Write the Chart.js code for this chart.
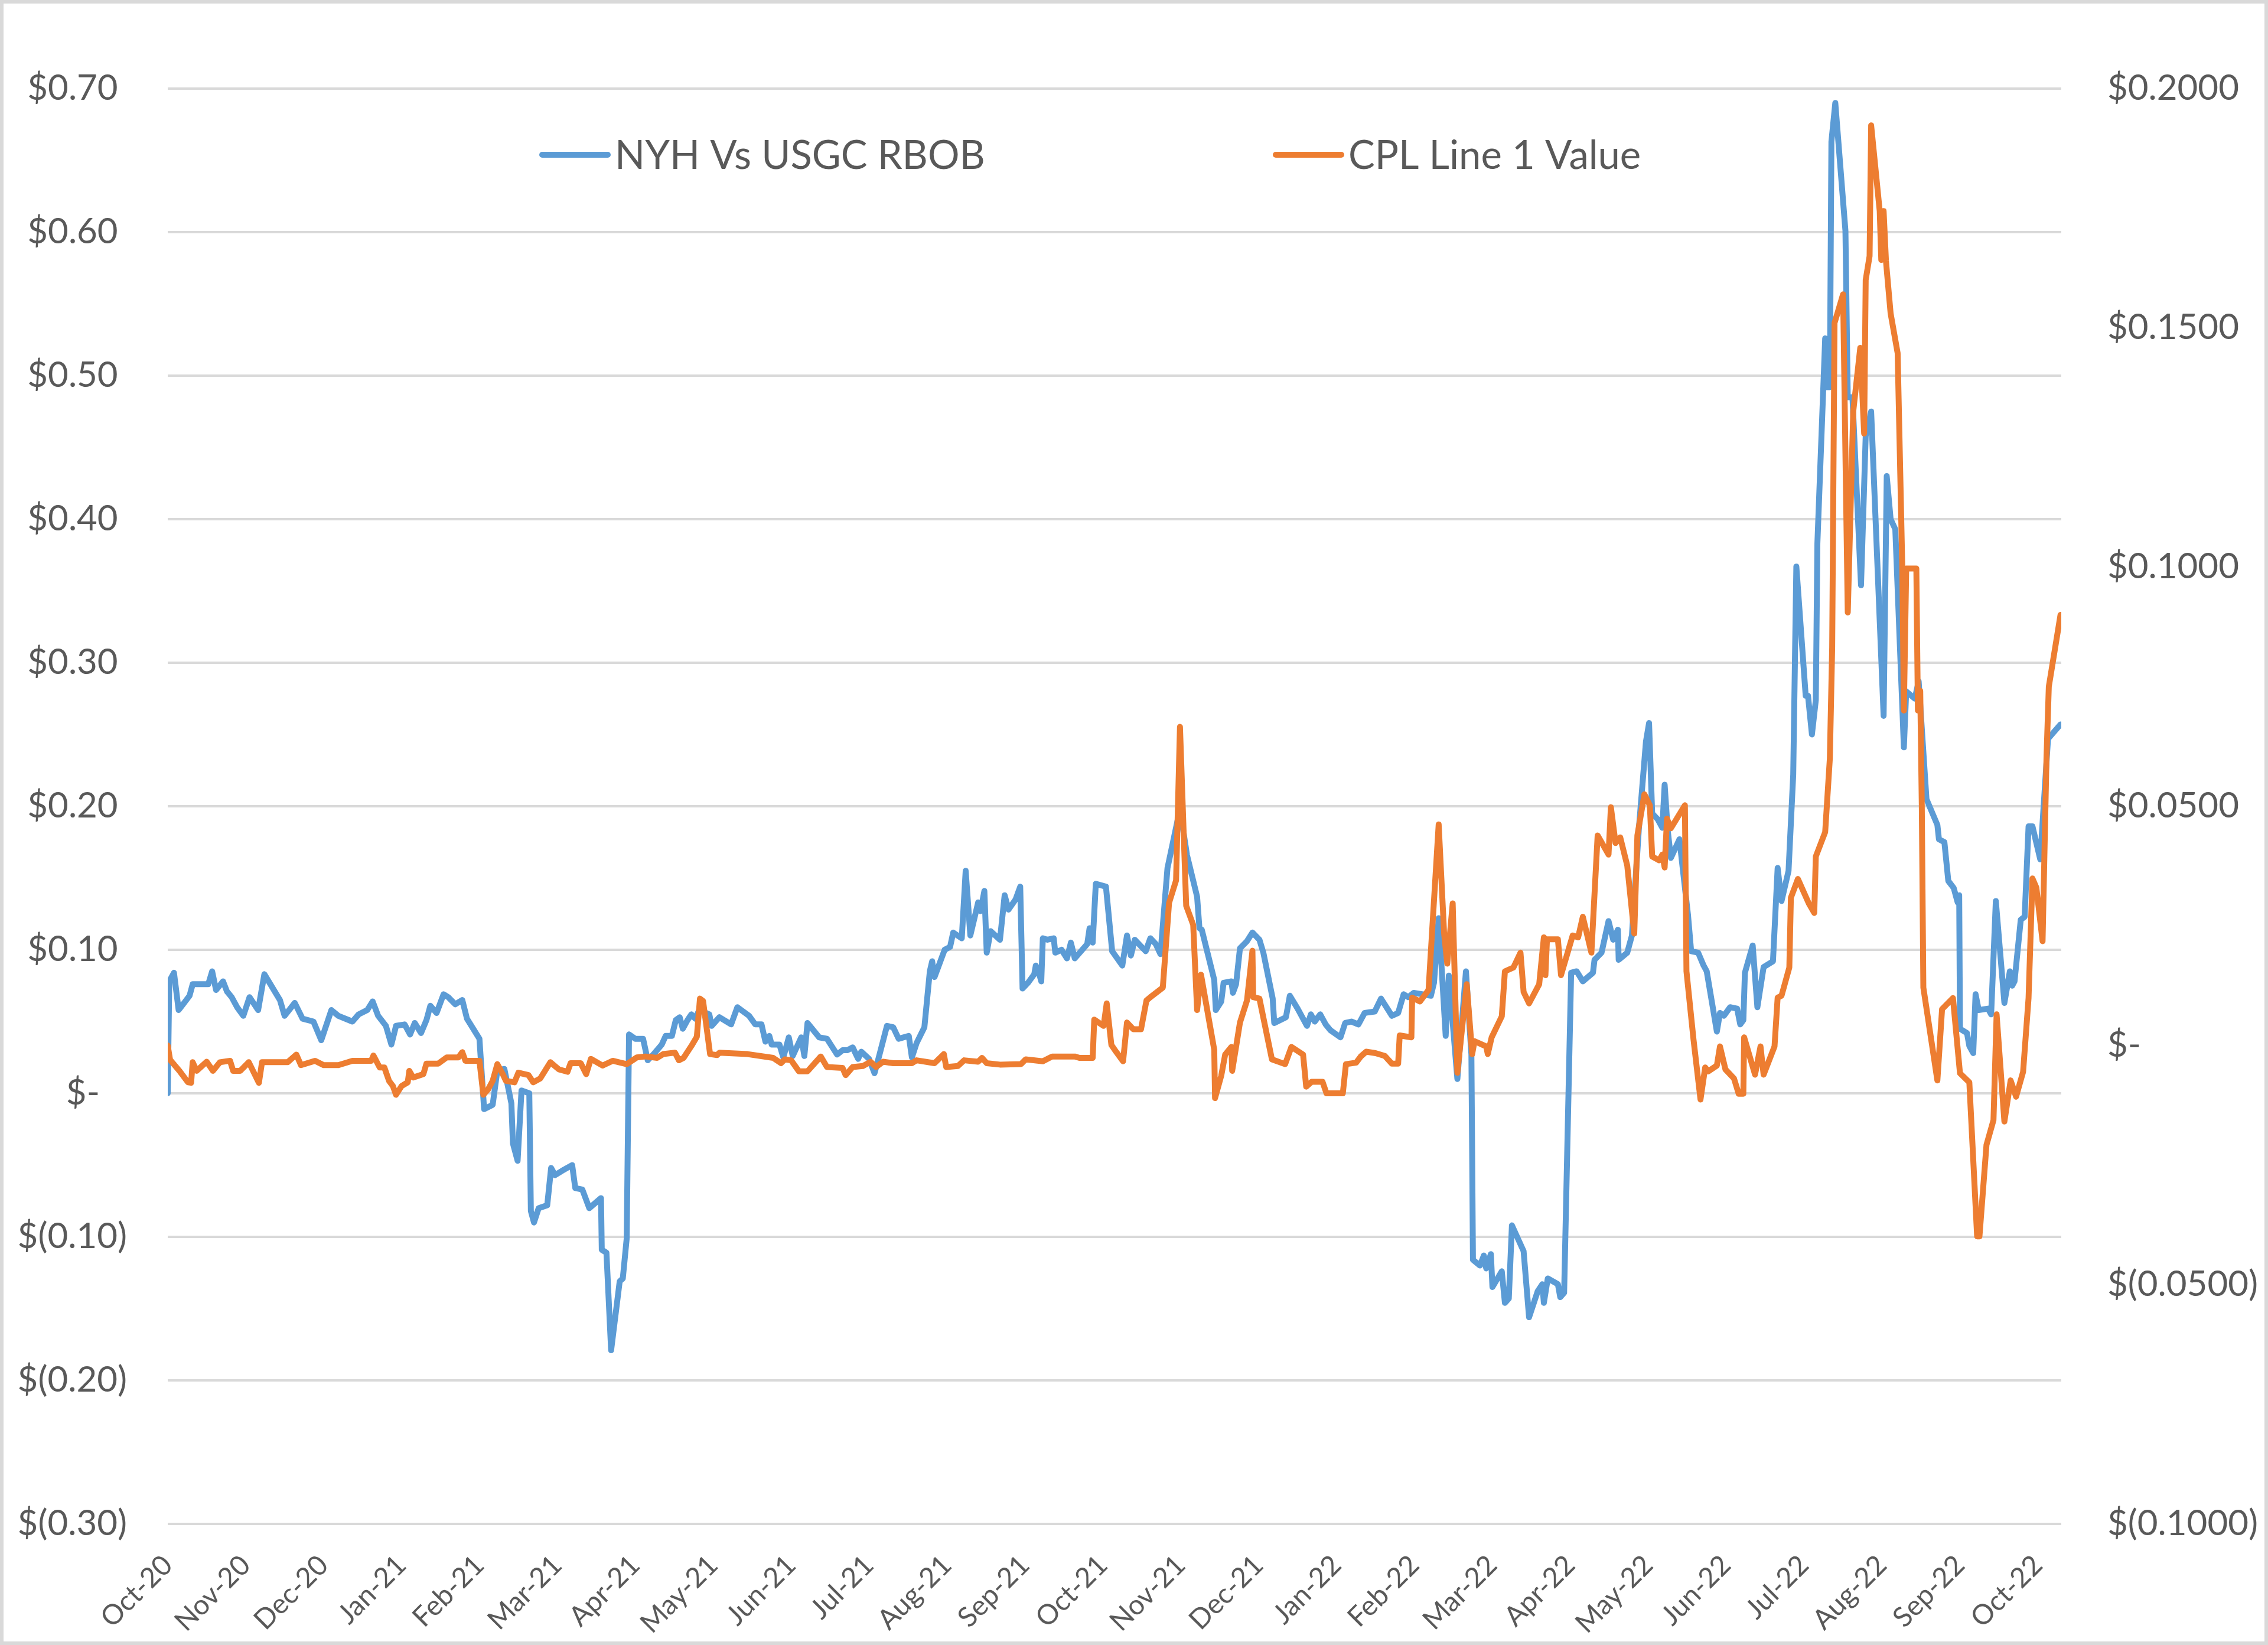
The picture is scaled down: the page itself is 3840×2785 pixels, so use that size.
<!DOCTYPE html>
<html>
<head>
<meta charset="utf-8">
<title>NYH Vs USGC RBOB / CPL Line 1 Value</title>
<script src="https://cdn.jsdelivr.net/npm/chart.js@4.4.0/dist/chart.umd.min.js"></script>
<style>
  html, body { margin: 0; padding: 0; background: #fff; }
  #chart { display: block; }
</style>
</head>
<body>
<canvas id="chart" width="3840" height="2785"></canvas>
<script>
  // month labels, one per tick (x = months since Oct-20)
  const monthLabels = ['Oct-20', 'Nov-20', 'Dec-20', 'Jan-21', 'Feb-21', 'Mar-21', 'Apr-21', 'May-21',
    'Jun-21', 'Jul-21', 'Aug-21', 'Sep-21', 'Oct-21', 'Nov-21', 'Dec-21', 'Jan-22', 'Feb-22',
    'Mar-22', 'Apr-22', 'May-22', 'Jun-22', 'Jul-22', 'Aug-22', 'Sep-22', 'Oct-22'];

  // NYH Vs USGC RBOB (left axis, $/gal)
  const nyhX = [0.00, 0.02, 0.08, 0.14, 0.21, 0.28, 0.32, 0.52, 0.57, 0.62, 0.71, 0.76, 0.82, 0.89, 0.97,
    1.05, 1.16, 1.24, 1.44, 1.50, 1.63, 1.73, 1.87, 1.97, 2.10, 2.19, 2.37, 2.45, 2.56, 2.63, 2.70, 2.80,
    2.87, 2.93, 3.04, 3.11, 3.17, 3.25, 3.32, 3.37, 3.45, 3.54, 3.60, 3.69, 3.78, 3.84, 4.00, 4.06, 4.17,
    4.23, 4.32, 4.41, 4.43, 4.49, 4.54, 4.64, 4.66, 4.70, 4.76, 4.87, 4.92, 4.97, 5.06, 5.19, 5.23, 5.32,
    5.41, 5.56, 5.57, 5.63, 5.69, 5.80, 5.84, 5.89, 5.92, 6.00, 6.10, 6.16, 6.23, 6.34, 6.39, 6.47, 6.52,
    6.57, 6.61, 6.67, 6.72, 6.77, 6.82, 6.95, 6.98, 7.08, 7.23, 7.31, 7.46, 7.54, 7.62, 7.67, 7.72, 7.75,
    7.85, 7.90, 7.97, 8.02, 8.13, 8.17, 8.21, 8.36, 8.46, 8.59, 8.66, 8.72, 8.79, 8.86, 8.90, 9.00, 9.07,
    9.12, 9.23, 9.31, 9.38, 9.51, 9.55, 9.61, 9.71, 9.78, 9.81, 9.84, 9.97, 10.04, 10.08, 10.19, 10.24,
    10.30, 10.40, 10.43, 10.48, 10.51, 10.56, 10.68, 10.74, 10.79, 10.88, 10.94, 10.97, 11.04, 11.12,
    11.14, 11.17, 11.21, 11.23, 11.29, 11.37, 11.39, 11.47, 11.54, 11.59, 11.64, 11.80, 11.83, 11.87,
    11.91, 12.04, 12.12, 12.25, 12.31, 12.36, 12.41, 12.55, 12.61, 12.68, 12.74, 12.83, 12.99, 13.08,
    13.21, 13.24, 13.27, 13.43, 13.45, 13.52, 13.55, 13.65, 13.67, 13.71, 13.76, 13.85, 13.92, 14.01,
    14.06, 14.18, 14.20, 14.35, 14.40, 14.50, 14.62, 14.67, 14.72, 14.79, 14.86, 14.92, 15.05, 15.11,
    15.19, 15.28, 15.36, 15.49, 15.57, 15.71, 15.79, 15.86, 15.92, 15.99, 16.21, 16.25, 16.31, 16.40,
    16.44, 16.55, 16.66, 16.73, 16.75, 16.84, 16.89, 16.92, 16.98, 17.00, 17.12, 17.16, 17.21, 17.25,
    17.40, 17.47, 17.58, 17.64, 17.66, 17.71, 17.84, 17.87, 17.92, 18.01, 18.08, 18.16, 18.29, 18.31,
    18.40, 18.49, 18.55, 18.61, 18.62, 18.73, 18.79, 18.88, 18.97, 19.01, 19.05, 19.12, 19.18, 19.21,
    19.25, 19.29, 19.40, 19.51, 19.55, 19.64, 19.71, 19.75, 19.88, 19.92, 19.97, 20.05, 20.14, 20.18,
    20.22, 20.24, 20.34, 20.40, 20.48, 20.60, 20.66, 20.71, 20.80, 20.86, 20.90, 21.02, 21.05, 21.10,
    21.15, 21.17, 21.27, 21.28, 21.33, 21.35, 21.40, 21.53, 21.56, 21.62, 21.73, 21.79, 21.86, 22.02,
    22.06, 22.11, 22.17, 22.28, 22.31, 22.42, 22.47, 22.57, 22.71, 22.73, 22.80, 22.85, 22.92, 22.97,
    22.99, 23.00, 23.09, 23.12, 23.17, 23.20, 23.24, 23.36, 23.40, 23.46, 23.57, 23.64, 23.67, 23.70,
    23.78, 23.83, 23.88, 23.93, 24.03, 24.07, 24.13, 24.29];
  const nyhY = [0.000, 0.078, 0.084, 0.058, 0.063, 0.068, 0.076, 0.076, 0.085, 0.072, 0.078, 0.071, 0.067,
    0.060, 0.054, 0.067, 0.058, 0.083, 0.065, 0.054, 0.063, 0.052, 0.050, 0.037, 0.058, 0.054, 0.050,
    0.055, 0.058, 0.064, 0.054, 0.047, 0.034, 0.047, 0.048, 0.041, 0.049, 0.042, 0.051, 0.061, 0.056,
    0.069, 0.067, 0.062, 0.065, 0.052, 0.038, -0.011, -0.008, 0.016, 0.017, -0.007, -0.035, -0.047,
    0.002, 0.000, -0.082, -0.090, -0.080, -0.078, -0.052, -0.057, -0.054, -0.050, -0.066, -0.067,
    -0.080, -0.073, -0.109, -0.111, -0.179, -0.131, -0.129, -0.101, 0.041, 0.038, 0.038, 0.023, 0.027,
    0.034, 0.040, 0.040, 0.051, 0.053, 0.045, 0.051, 0.055, 0.052, 0.058, 0.055, 0.047, 0.053, 0.048,
    0.060, 0.054, 0.048, 0.048, 0.036, 0.040, 0.034, 0.034, 0.025, 0.039, 0.026, 0.039, 0.026, 0.049,
    0.039, 0.038, 0.027, 0.030, 0.030, 0.032, 0.024, 0.029, 0.024, 0.014, 0.024, 0.047, 0.046, 0.038,
    0.040, 0.025, 0.035, 0.046, 0.085, 0.092, 0.081, 0.100, 0.102, 0.112, 0.108, 0.155, 0.110, 0.133,
    0.127, 0.141, 0.098, 0.113, 0.107, 0.138, 0.128, 0.135, 0.144, 0.073, 0.077, 0.083, 0.089, 0.086,
    0.078, 0.108, 0.107, 0.108, 0.098, 0.100, 0.094, 0.105, 0.094, 0.104, 0.115, 0.105, 0.146, 0.144,
    0.099, 0.089, 0.110, 0.096, 0.107, 0.099, 0.108, 0.104, 0.097, 0.157, 0.198, 0.166, 0.137, 0.115,
    0.114, 0.079, 0.058, 0.064, 0.077, 0.078, 0.070, 0.076, 0.101, 0.106, 0.112, 0.107, 0.098, 0.066,
    0.049, 0.053, 0.068, 0.059, 0.047, 0.055, 0.050, 0.055, 0.048, 0.044, 0.039, 0.049, 0.050, 0.048,
    0.056, 0.057, 0.066, 0.054, 0.056, 0.069, 0.067, 0.070, 0.068, 0.077, 0.122, 0.040, 0.082, 0.010,
    0.085, 0.027, -0.116, -0.120, -0.113, -0.122, -0.112, -0.135, -0.124, -0.146, -0.143, -0.092,
    -0.110, -0.156, -0.138, -0.133, -0.146, -0.129, -0.133, -0.142, -0.139, 0.084, 0.085, 0.078, 0.084,
    0.093, 0.098, 0.120, 0.107, 0.114, 0.093, 0.098, 0.110, 0.185, 0.245, 0.258, 0.195, 0.191, 0.185,
    0.215, 0.183, 0.164, 0.177, 0.124, 0.099, 0.098, 0.089, 0.085, 0.043, 0.056, 0.054, 0.060, 0.059,
    0.048, 0.051, 0.084, 0.103, 0.060, 0.088, 0.092, 0.157, 0.134, 0.155, 0.222, 0.367, 0.277, 0.277,
    0.250, 0.274, 0.383, 0.526, 0.492, 0.492, 0.663, 0.690, 0.601, 0.485, 0.485, 0.354, 0.458, 0.475,
    0.263, 0.430, 0.400, 0.393, 0.241, 0.280, 0.275, 0.287, 0.205, 0.187, 0.177, 0.175, 0.148, 0.143,
    0.133, 0.138, 0.045, 0.042, 0.033, 0.028, 0.069, 0.058, 0.059, 0.055, 0.134, 0.063, 0.085, 0.075,
    0.078, 0.121, 0.123, 0.186, 0.186, 0.163, 0.197, 0.247, 0.257];

  // CPL Line 1 Value (right axis, $/gal)
  const cplX = [0.00, 0.03, 0.15, 0.26, 0.30, 0.32, 0.37, 0.50, 0.58, 0.67, 0.80, 0.84, 0.93, 1.04, 1.17,
    1.21, 1.54, 1.65, 1.71, 1.89, 2.00, 2.19, 2.37, 2.61, 2.64, 2.72, 2.78, 2.84, 2.89, 2.93, 3.00, 3.08,
    3.10, 3.15, 3.28, 3.32, 3.47, 3.58, 3.73, 3.78, 3.82, 4.00, 4.05, 4.11, 4.17, 4.23, 4.30, 4.34, 4.45,
    4.50, 4.63, 4.69, 4.78, 4.91, 5.02, 5.13, 5.17, 5.30, 5.37, 5.43, 5.58, 5.71, 5.89, 6.02, 6.13, 6.28,
    6.36, 6.51, 6.56, 6.62, 6.72, 6.79, 6.83, 6.87, 6.96, 7.05, 7.08, 7.44, 7.77, 7.87, 7.92, 8.00, 8.10,
    8.21, 8.38, 8.46, 8.66, 8.70, 8.79, 8.92, 9.02, 9.09, 9.18, 9.31, 9.55, 9.61, 9.84, 9.96, 9.99,
    10.14, 10.22, 10.40, 10.45, 10.51, 10.68, 10.95, 11.01, 11.23, 11.35, 11.64, 11.70, 11.87, 11.89,
    12.01, 12.05, 12.11, 12.17, 12.26, 12.31, 12.39, 12.49, 12.56, 12.61, 12.77, 12.85, 12.94, 12.99,
    13.07, 13.16, 13.21, 13.26, 13.43, 13.44, 13.52, 13.57, 13.65, 13.66, 13.71, 13.76, 13.85, 13.92,
    13.93, 14.01, 14.17, 14.34, 14.42, 14.57, 14.61, 14.68, 14.82, 14.87, 15.08, 15.12, 15.25, 15.31,
    15.38, 15.50, 15.62, 15.71, 15.79, 15.81, 15.96, 15.97, 16.07, 16.18, 16.23, 16.31, 16.38, 16.42,
    16.49, 16.55, 16.67, 16.74, 16.77, 16.92, 16.94, 16.99, 17.12, 17.16, 17.27, 17.36, 17.40, 17.47,
    17.60, 17.66, 17.68, 17.70, 17.84, 17.88, 18.03, 18.10, 18.16, 18.27, 18.35, 18.49, 18.52, 18.58,
    18.64, 18.73, 18.82, 18.86, 18.95, 19.02, 19.05, 19.14, 19.18, 19.21, 19.24, 19.29, 19.47, 19.49,
    19.58, 19.67, 19.73, 19.77, 19.88, 19.92, 19.99, 20.10, 20.16, 20.22, 20.23, 20.37, 20.44, 20.48,
    20.62, 20.66, 20.71, 20.81, 20.83, 20.92, 21.06, 21.13, 21.15, 21.27, 21.33, 21.36, 21.39, 21.50,
    21.56, 21.63, 21.72, 21.77, 21.79, 21.84, 21.86, 21.97, 21.99, 22.02, 22.05, 22.11, 22.20, 22.26,
    22.28, 22.31, 22.44, 22.46, 22.49, 22.51, 22.53, 22.71, 22.77, 22.91, 23.00, 23.12, 23.22, 23.25,
    23.34, 23.43, 23.47, 23.57, 23.65, 23.72, 23.81, 23.88, 23.93, 23.98, 24.06, 24.11, 24.14, 24.29];
  const cplY = [0.0000, -0.0030, -0.0053, -0.0077, -0.0078, -0.0035, -0.0053, -0.0034, -0.0053, -0.0035,
    -0.0032, -0.0053, -0.0053, -0.0035, -0.0078, -0.0035, -0.0035, -0.0019, -0.0041, -0.0032, -0.0041,
    -0.0041, -0.0032, -0.0032, -0.0021, -0.0046, -0.0046, -0.0074, -0.0085, -0.0103, -0.0085, -0.0077,
    -0.0053, -0.0067, -0.0060, -0.0038, -0.0038, -0.0025, -0.0025, -0.0014, -0.0032, -0.0032, -0.0103,
    -0.0092, -0.0074, -0.0039, -0.0060, -0.0074, -0.0077, -0.0057, -0.0062, -0.0077, -0.0069, -0.0035,
    -0.0050, -0.0055, -0.0037, -0.0037, -0.0060, -0.0028, -0.0042, -0.0032, -0.0039, -0.0025, -0.0023,
    -0.0026, -0.0018, -0.0015, -0.0031, -0.0026, -0.0001, 0.0018, 0.0098, 0.0093, -0.0018, -0.0020,
    -0.0015, -0.0018, -0.0026, -0.0037, -0.0029, -0.0031, -0.0054, -0.0054, -0.0023, -0.0045, -0.0047,
    -0.0062, -0.0045, -0.0043, -0.0034, -0.0045, -0.0034, -0.0037, -0.0037, -0.0031, -0.0037, -0.0018,
    -0.0045, -0.0043, -0.0031, -0.0034, -0.0026, -0.0037, -0.0040, -0.0039, -0.0029, -0.0033, -0.0023,
    -0.0023, -0.0026, -0.0026, 0.0054, 0.0041, 0.0088, 0.0001, -0.0013, -0.0033, 0.0048, 0.0034, 0.0034,
    0.0094, 0.0101, 0.0121, 0.0298, 0.0345, 0.0666, 0.0292, 0.0252, 0.0074, 0.0148, -0.0009, -0.0110,
    -0.0063, -0.0019, -0.0003, -0.0053, -0.0003, 0.0048, 0.0094, 0.0198, 0.0101, 0.0098, -0.0029,
    -0.0039, -0.0003, -0.0019, -0.0086, -0.0076, -0.0076, -0.0100, -0.0100, -0.0039, -0.0036, -0.0023,
    -0.0013, -0.0016, -0.0022, -0.0038, -0.0038, 0.0021, 0.0017, 0.0100, 0.0092, 0.0116, 0.0250, 0.0462,
    0.0234, 0.0171, 0.0297, -0.0057, 0.0128, -0.0018, 0.0009, -0.0002, -0.0018, 0.0017, 0.0061, 0.0155,
    0.0163, 0.0194, 0.0112, 0.0088, 0.0128, 0.0226, 0.0147, 0.0222, 0.0222, 0.0147, 0.0230, 0.0226,
    0.0269, 0.0194, 0.0439, 0.0399, 0.0498, 0.0423, 0.0435, 0.0376, 0.0234, 0.0439, 0.0525, 0.0502,
    0.0395, 0.0387, 0.0399, 0.0372, 0.0474, 0.0454, 0.0502, 0.0155, 0.0013, -0.0113, -0.0046, -0.0054,
    -0.0042, -0.0002, -0.0050, -0.0069, -0.0101, -0.0101, 0.0017, -0.0061, -0.0002, -0.0061, -0.0002,
    0.0100, 0.0104, 0.0163, 0.0309, 0.0348, 0.0297, 0.0277, 0.0395, 0.0446, 0.0600, 0.0833, 0.1510,
    0.1570, 0.0905, 0.1325, 0.1458, 0.1279, 0.1600, 0.1650, 0.1923, 0.1744, 0.1642, 0.1744, 0.1640,
    0.1530, 0.1447, 0.0997, 0.0700, 0.0997, 0.0997, 0.0700, 0.0741, 0.0500, 0.0121, -0.0073, 0.0076,
    0.0099, -0.0058, -0.0077, -0.0399, -0.0399, -0.0208, -0.0156, 0.0065, -0.0159, -0.0073, -0.0107,
    -0.0055, 0.0099, 0.0349, 0.0330, 0.0218, 0.0600, 0.0750, 0.0900];

  const textColor = '#595959';
  const gridColor = '#d9d9d9';

  function leftLabel(v) {
    const n = Math.round(v * 100) / 100;
    if (n === 0) return '$-   ';
    if (n < 0) return '$(' + Math.abs(n).toFixed(2) + ')';
    return '$' + n.toFixed(2) + ' ';
  }

  function rightLabel(v) {
    const n = Math.round(v * 10000) / 10000;
    if (n === 0) return '$-';
    if (n < 0) return '$(' + Math.abs(n).toFixed(4) + ')';
    return '$' + n.toFixed(4);
  }

  const toPoints = (xs, ys) => xs.map((x, i) => ({ x, y: ys[i] }));

  // white background and the thin grey frame round the chart
  const chartFrame = {
    id: 'chartFrame',
    beforeDraw(chart) {
      const ctx = chart.ctx;
      ctx.save();
      ctx.fillStyle = '#fff';
      ctx.fillRect(0, 0, chart.width, chart.height);
      ctx.restore();
    },
    afterDraw(chart) {
      const ctx = chart.ctx;
      ctx.save();
      ctx.strokeStyle = gridColor;
      ctx.lineWidth = 6;
      ctx.strokeRect(3, 3, chart.width - 6, chart.height - 6);
      ctx.restore();
    }
  };

  // legend drawn inside the plot area, like the Excel original
  const lineLegend = {
    id: 'lineLegend',
    afterDatasetsDraw(chart, args, opts) {
      const ctx = chart.ctx;
      ctx.save();
      ctx.font = opts.font;
      ctx.textBaseline = 'middle';
      chart.data.datasets.forEach((ds, i) => {
        const x = opts.x[i];
        ctx.strokeStyle = ds.borderColor;
        ctx.lineWidth = ds.borderWidth;
        ctx.lineCap = 'round';
        ctx.beginPath();
        ctx.moveTo(x, opts.y);
        ctx.lineTo(x + opts.sample, opts.y);
        ctx.stroke();
        ctx.fillStyle = opts.color;
        ctx.fillText(ds.label, x + opts.sample + opts.gap, opts.y + 2);
      });
      ctx.restore();
    }
  };

  const ctx = document.getElementById('chart').getContext('2d');
  new Chart(ctx, {
    type: 'line',
    data: {
      datasets: [{
        label: 'NYH Vs USGC RBOB',
        data: toPoints(nyhX, nyhY),
        yAxisID: 'y',
        borderColor: '#5b9bd5',
        borderWidth: 10,
        pointRadius: 0,
        tension: 0,
        borderJoinStyle: 'round',
        borderCapStyle: 'round',
        order: 1
      }, {
        label: 'CPL Line 1 Value',
        data: toPoints(cplX, cplY),
        yAxisID: 'y1',
        borderColor: '#ed7d31',
        borderWidth: 10,
        pointRadius: 0,
        tension: 0,
        borderJoinStyle: 'round',
        borderCapStyle: 'round',
        order: 0
      }]
    },
    options: {
      responsive: false,
      animation: false,
      devicePixelRatio: 1,
      layout: { padding: { top: 150, left: 0, right: 0, bottom: 0 } },
      scales: {
        x: {
          type: 'linear',
          min: 0,
          max: 24.3,
          afterBuildTicks: (scale) => {
            scale.ticks = monthLabels.map((_, i) => ({ value: i }));
          },
          afterFit: (scale) => { scale.height = 205; },
          grid: { display: false, drawTicks: false },
          border: { display: false },
          ticks: {
            autoSkip: false,
            minRotation: 45,
            maxRotation: 45,
            padding: 42,
            color: textColor,
            font: { family: 'Lato', size: 47 },
            callback: (value) => monthLabels[value]
          }
        },
        y: {
          position: 'left',
          min: -0.30,
          max: 0.70,
          afterFit: (scale) => { scale.width = 284; },
          grid: { color: gridColor, lineWidth: 4, drawTicks: false },
          border: { display: false },
          ticks: {
            stepSize: 0.1,
            padding: 69,
            color: textColor,
            font: { family: 'Lato', size: 60 },
            callback: (value) => leftLabel(value)
          }
        },
        y1: {
          position: 'right',
          min: -0.10,
          max: 0.20,
          afterFit: (scale) => { scale.width = 350; },
          grid: { display: false, drawTicks: false },
          border: { display: false },
          ticks: {
            stepSize: 0.05,
            padding: 78,
            color: textColor,
            font: { family: 'Lato', size: 60 },
            callback: (value) => rightLabel(value)
          }
        }
      },
      plugins: {
        legend: { display: false },
        tooltip: { enabled: false },
        lineLegend: {
          x: [918, 2160],
          y: 262,
          sample: 111,
          gap: 12,
          color: textColor,
          font: '67px Lato'
        }
      }
    },
    plugins: [chartFrame, lineLegend]
  });
</script>
</body>
</html>
